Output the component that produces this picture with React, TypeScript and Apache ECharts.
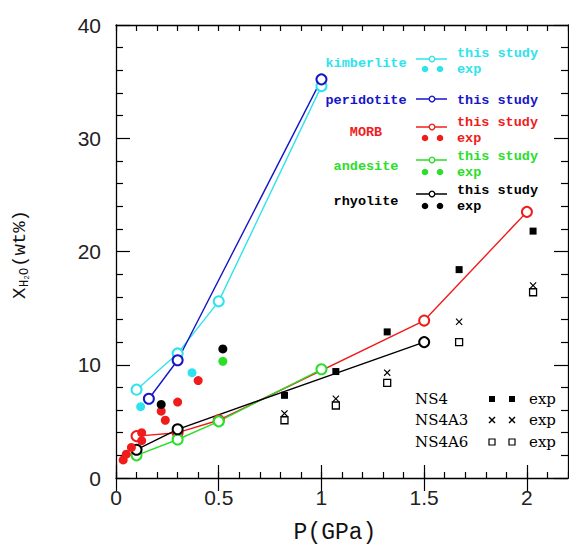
import { useEffect, useRef } from "react";
import * as echarts from "echarts";

// ---- data (P in GPa, X_H2O in wt%) ----
const kimberliteStudy = [[0.1, 7.8], [0.3, 11.0], [0.5, 15.6], [1.0, 34.6]];
const kimberliteExp = [[0.12, 6.3], [0.37, 9.3]];
const peridotiteStudy = [[0.16, 7.0], [0.3, 10.4], [1.0, 35.2]];
const morbStudy = [[0.1, 3.7], [0.3, 4.0], [0.5, 5.1], [1.5, 13.9], [2.0, 23.5]];
const morbExp = [[0.035, 1.6], [0.05, 2.1], [0.075, 2.7], [0.125, 3.3], [0.125, 4.0], [0.22, 5.9], [0.24, 5.1], [0.3, 6.7], [0.4, 8.6]];
const andesiteStudy = [[0.1, 2.0], [0.3, 3.4], [0.5, 5.0], [1.0, 9.6]];
const andesiteExp = [[0.52, 10.3]];
const rhyoliteStudy = [[0.1, 2.5], [0.3, 4.3], [1.5, 12.0]];
const rhyoliteExp = [[0.22, 6.5], [0.52, 11.4]];
const ns4Exp = [[0.82, 7.3], [1.07, 9.4], [1.32, 12.9], [1.67, 18.4], [2.03, 21.8]];
const ns4a3Exp = [[0.82, 5.7], [1.07, 7.0], [1.32, 9.3], [1.67, 13.8], [2.03, 17.0]];
const ns4a6Exp = [[0.82, 5.1], [1.07, 6.4], [1.32, 8.4], [1.67, 12.0], [2.03, 16.4]];
const xMajorTicks = [0, 0.5, 1, 1.5, 2];
const compositionNames = ["kimberlite", "peridotite", "MORB", "andesite", "rhyolite"];
const glassNames = ["NS4", "NS4A3", "NS4A6"];

const C = {
  cyan: "#2fe3ee",
  blue: "#1616c8",
  red: "#f01c1c",
  green: "#2ade2a",
  black: "#000000",
};

const X_PATH = "path://M0,1.2L1.2,0L5,3.8L8.8,0L10,1.2L6.2,5L10,8.8L8.8,10L5,6.2L1.2,10L0,8.8L3.8,5Z";

export default function App() {
  const ref = useRef<HTMLDivElement>(null);

  useEffect(() => {
    document.body.style.margin = "0";
    const chart = echarts.init(ref.current!, null, { renderer: "svg" });

    const studySeries = (name: string, data: number[][], color: string) => ({
      name,
      type: "line",
      data,
      xAxisIndex: 0,
      yAxisIndex: 0,
      symbol: "emptyCircle",
      symbolSize: 10,
      lineStyle: { color, width: 1.4 },
      itemStyle: { color, borderColor: color, borderWidth: 1.3 },
      z: 3,
    });
    const expSeries = (name: string, data: number[][], color: string) => ({
      name,
      type: "scatter",
      data,
      xAxisIndex: 0,
      yAxisIndex: 0,
      symbol: "circle",
      symbolSize: 9,
      itemStyle: { color, opacity: 1 },
      z: 4,
    });

    const legendFont = "bold 13.5px 'Liberation Mono', monospace";
    const rowsCfg = [
      { color: C.cyan, labelY: 63, studyY: 53, lineY: 59, expY: 69 },
      { color: C.blue, labelY: 100, studyY: 100, lineY: 99, expY: null },
      { color: C.red, labelY: 132, studyY: 122, lineY: 127, expY: 138 },
      { color: C.green, labelY: 166, studyY: 156, lineY: 160, expY: 172 },
      { color: C.black, labelY: 201, studyY: 190, lineY: 194, expY: 206 },
    ];
    const graphics: any[] = [];
    rowsCfg.forEach((r, i) => {
      graphics.push({
        type: "text",
        x: 366,
        y: r.labelY,
        style: { text: compositionNames[i], fill: r.color, font: legendFont, textAlign: "center", textVerticalAlign: "middle" },
      });
      graphics.push({
        type: "line",
        shape: { x1: 416, y1: r.lineY, x2: 447, y2: r.lineY },
        style: { stroke: r.color, lineWidth: 1.5 },
      });
      graphics.push({
        type: "circle",
        shape: { cx: 432, cy: r.lineY, r: 2.8 },
        style: { stroke: r.color, fill: "#fff", lineWidth: 1.3 },
      });
      graphics.push({
        type: "text",
        x: 457,
        y: r.studyY,
        style: { text: "this study", fill: r.color, font: legendFont, textAlign: "left", textVerticalAlign: "middle" },
      });
      if (r.expY !== null) {
        [425, 440].forEach((cx) =>
          graphics.push({ type: "circle", shape: { cx, cy: r.expY, r: 3.3 }, style: { fill: r.color } })
        );
        graphics.push({
          type: "text",
          x: 457,
          y: r.expY,
          style: { text: "exp", fill: r.color, font: legendFont, textAlign: "left", textVerticalAlign: "middle" },
        });
      }
    });

    const serifFont = "15px 'DejaVu Serif', serif";
    const glassRowsY = [399, 420, 442];
    glassRowsY.forEach((y, i) => {
      graphics.push({
        type: "text",
        x: 415,
        y,
        style: { text: glassNames[i], fill: "#000", font: serifFont, textAlign: "left", textVerticalAlign: "middle" },
      });
      [492, 512].forEach((cx) => {
        if (i === 0) {
          graphics.push({ type: "rect", shape: { x: cx - 3, y: y - 3, width: 6, height: 6 }, style: { fill: "#000" } });
        } else if (i === 1) {
          graphics.push({ type: "line", shape: { x1: cx - 3, y1: y - 3, x2: cx + 3, y2: y + 3 }, style: { stroke: "#000", lineWidth: 1.4 } });
          graphics.push({ type: "line", shape: { x1: cx - 3, y1: y + 3, x2: cx + 3, y2: y - 3 }, style: { stroke: "#000", lineWidth: 1.4 } });
        } else {
          graphics.push({ type: "rect", shape: { x: cx - 3, y: y - 3, width: 6, height: 6 }, style: { fill: "#fff", stroke: "#000", lineWidth: 1.2 } });
        }
      });
      graphics.push({
        type: "text",
        x: 529,
        y,
        style: { text: "exp", fill: "#000", font: serifFont, textAlign: "left", textVerticalAlign: "middle" },
      });
    });

    // x axis name
    graphics.push({
      type: "text",
      x: 335,
      y: 533,
      style: { text: "P(GPa)", fill: "#111", font: "23px 'Liberation Mono', monospace", textAlign: "center", textVerticalAlign: "middle" },
    });

    // y axis name (rotated, with subscript)
    const bigF = "19px 'Liberation Mono', monospace";
    const smallF = "12px 'Liberation Mono', monospace";
    const tinyF = "7px 'Liberation Mono', monospace";
    graphics.push({
      type: "group",
      x: 20,
      y: 252,
      rotation: Math.PI / 2,
      children: [
        { type: "text", x: -47, y: 0, style: { text: "X", fill: "#111", font: bigF, textAlign: "left", textVerticalAlign: "middle" } },
        { type: "text", x: -35, y: 5, style: { text: "H", fill: "#111", font: smallF, textAlign: "left", textVerticalAlign: "middle" } },
        { type: "text", x: -27.5, y: 7, style: { text: "2", fill: "#111", font: tinyF, textAlign: "left", textVerticalAlign: "middle" } },
        { type: "text", x: -23, y: 5, style: { text: "O", fill: "#111", font: smallF, textAlign: "left", textVerticalAlign: "middle" } },
        { type: "text", x: -15, y: 0, style: { text: "(wt%)", fill: "#111", font: bigF, textAlign: "left", textVerticalAlign: "middle" } },
      ],
    });

    const axisLineStyle = { color: "#000", width: 1.3 };
    const baseX = { type: "value", min: 0, max: 2.2, splitLine: { show: false } };

    chart.setOption({
      animation: false,
      backgroundColor: "#fff",
      grid: { left: 116, top: 25, right: 1, bottom: 67, containLabel: false },
      xAxis: [
        {
          ...baseX,
          position: "bottom",
          interval: 0.1,
          axisLine: { show: true, onZero: false, lineStyle: axisLineStyle },
          axisTick: { show: true, inside: true, length: 6, lineStyle: { color: "#000", width: 1.2 } },
          axisLabel: { show: false },
        },
        {
          ...baseX,
          position: "bottom",
          axisLine: { show: false },
          axisTick: { show: true, inside: true, length: 13, customValues: xMajorTicks, lineStyle: { color: "#000", width: 1.2 } },
          axisLabel: {
            show: true,
            customValues: xMajorTicks,
            margin: 9,
            color: "#222",
            fontSize: 21,
            fontFamily: "'Liberation Sans', Arial, sans-serif",
            formatter: (v: number) => String(v),
          },
        },
        {
          ...baseX,
          position: "top",
          interval: 0.1,
          axisLine: { show: true, onZero: false, lineStyle: axisLineStyle },
          axisTick: { show: true, inside: true, length: 6, lineStyle: { color: "#000", width: 1.2 } },
          axisLabel: { show: false },
        },
        {
          ...baseX,
          position: "top",
          axisLine: { show: false },
          axisTick: { show: true, inside: true, length: 13, customValues: xMajorTicks, lineStyle: { color: "#000", width: 1.2 } },
          axisLabel: { show: false },
        },
      ],
      yAxis: [
        {
          type: "value",
          min: 0,
          max: 40,
          interval: 10,
          position: "left",
          axisLine: { show: true, onZero: false, lineStyle: axisLineStyle },
          axisTick: { show: true, inside: true, length: 14, lineStyle: { color: "#000", width: 1.2 } },
          minorTick: { show: true, splitNumber: 5, length: 7, lineStyle: { color: "#000", width: 1.2 } },
          axisLabel: { margin: 15, color: "#222", fontSize: 21, fontFamily: "'Liberation Sans', Arial, sans-serif" },
          splitLine: { show: false },
        },
        {
          type: "value",
          min: 0,
          max: 40,
          interval: 10,
          position: "right",
          axisLine: { show: true, onZero: false, lineStyle: axisLineStyle },
          axisTick: { show: true, inside: true, length: 14, lineStyle: { color: "#000", width: 1.2 } },
          minorTick: { show: true, splitNumber: 5, length: 7, lineStyle: { color: "#000", width: 1.2 } },
          axisLabel: { show: false },
          splitLine: { show: false },
        },
      ],
      series: [
        studySeries("kimberlite this study", kimberliteStudy, C.cyan),
        studySeries("peridotite this study", peridotiteStudy, C.blue),
        studySeries("MORB this study", morbStudy, C.red),
        studySeries("andesite this study", andesiteStudy, C.green),
        studySeries("rhyolite this study", rhyoliteStudy, C.black),
        expSeries("kimberlite exp", kimberliteExp, C.cyan),
        expSeries("MORB exp", morbExp, C.red),
        expSeries("andesite exp", andesiteExp, C.green),
        expSeries("rhyolite exp", rhyoliteExp, C.black),
        {
          name: "NS4 exp",
          type: "scatter",
          data: ns4Exp,
          symbol: "rect",
          symbolSize: 7,
          itemStyle: { color: "#000", opacity: 1 },
        },
        {
          name: "NS4A3 exp",
          type: "scatter",
          data: ns4a3Exp,
          symbol: X_PATH,
          symbolSize: 7,
          itemStyle: { color: "#000", opacity: 1 },
        },
        {
          name: "NS4A6 exp",
          type: "scatter",
          data: ns4a6Exp,
          symbol: "rect",
          symbolSize: 7,
          itemStyle: { color: "#fff", borderColor: "#000", borderWidth: 1.3, opacity: 1 },
        },
      ],
      graphic: graphics,
    });

    return () => chart.dispose();
  }, []);

  return (
    <div
      ref={ref}
      style={{ position: "absolute", left: 0, top: 0, width: 569, height: 545 }}
    />
  );
}
